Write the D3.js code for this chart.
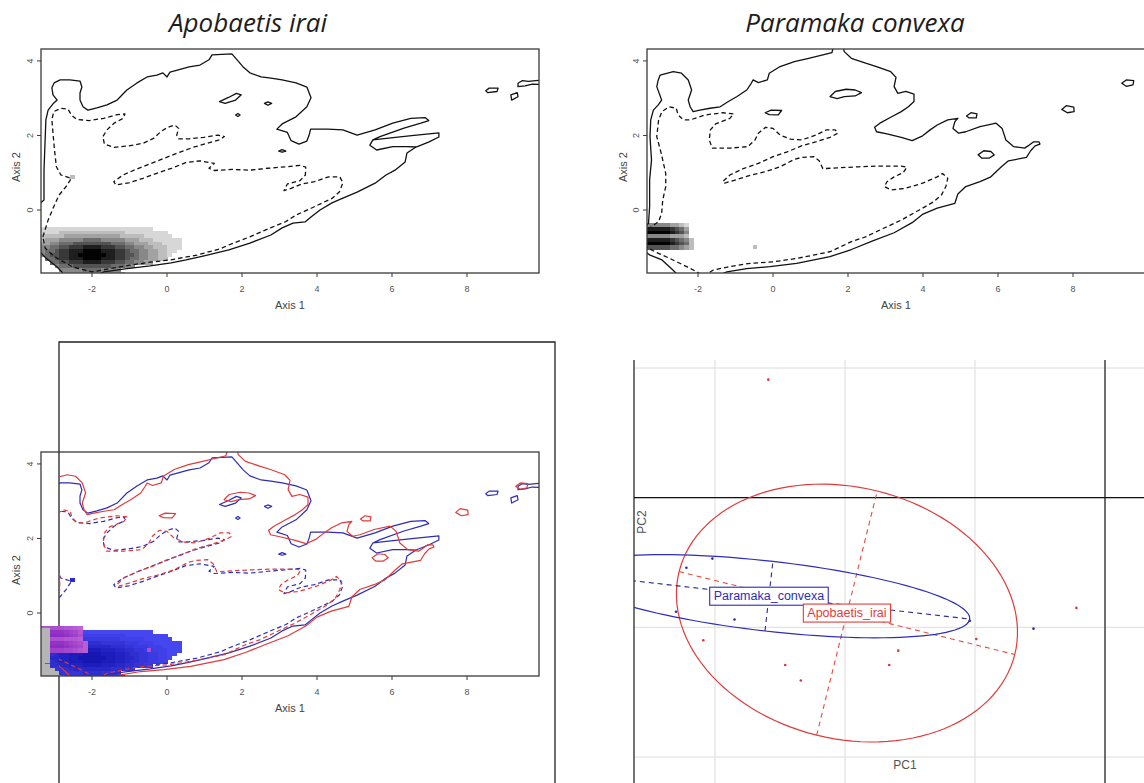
<!DOCTYPE html>
<html>
<head>
<meta charset="utf-8">
<script src="https://cdn.jsdelivr.net/npm/d3@7"></script>
<style>
  html, body { margin: 0; padding: 0; background: #fff; }
  svg { display: block; }
</style>
</head>
<body>
<svg id="fig" width="1144" height="783"></svg>
<script>
// ---------- niche space (Axis 1 / Axis 2) ----------
const axis1Ticks = [-2, 0, 2, 4, 6, 8];
const axis2Ticks = [0, 2, 4];
const axis1Range = [-3.36, 9.92];
const axis2Range = [-1.69, 4.32];
const speciesTitles = ["Apobaetis irai", "Paramaka convexa"];

// occupancy raster: rows from the top edge down, one digit (0-9) per cell
const rasterTop = -0.35, rasterLeft = -3.375, cellW = 0.125, cellH = 0.1;
const apobDensityRows = [
  "",
  "11111111 11111111 11111111",
  "1111 2222222 2222222 111111111",
  "22222 333333 333333 22222 111111",
  "2 333 44444 5555 44444 333 222 111111",
  "33 44 555 66666666 555 44 333 222 1111",
  "44 55 66 777 8888 777 66 55 44 33 222 111",
  "4 55 6 77 888 9999 888 77 6 55 44 33 22 11",
  "4 5 66 77 88 999999 88 77 66 5 44 33 22 1",
  "0 5 5 6 77 888 9999 888 77 6 55 44 33 22",
  "00 55 66 777 8888 777 66 55 44 33",
  "000 4 555 66666666 555 44",
  "0000 44444 5555 4444",
  "00000 3333333333333"
];
const paraDensityRows = [
  "444443321",
  "888887653",
  "999998764",
  "444443332",
  "8888876542",
  "9999987652",
  "6666655432"
];
const apobSpeckles = [[-2.52, 0.88, 2]];
const paraSpeckles = [[-0.48, -1.0, 2]];
// grey background cells of the overlap map [x0, x1, y0, y1]
const overlapGreyUnder = [[-3.45, -2.2, -1.75, -1.3]];
const overlapGreyOver = [[-3.45, -3.12, -1.35, -0.40]];

// Apobaetis irai: outer (solid) and inner (dashed) envelope
const apobSolid = [
  [-3.47,-1.07],[-3.36,-1.15],[-3.23,-1.29],[-2.93,-1.53],[-2.75,-1.72],[-2.45,-1.83],[-1.92,-1.77],
  [-1.68,-1.66],[-1.12,-1.58],[-0.45,-1.50],[0.11,-1.42],[0.51,-1.34],[0.99,-1.23],[1.65,-1.07],
  [2.21,-0.89],[2.77,-0.67],[3.07,-0.48],[3.36,-0.35],[3.68,-0.32],[3.84,-0.19],[4.08,0.00],
  [4.40,0.19],[4.69,0.32],[5.07,0.48],[5.55,0.72],[5.84,0.94],[6.08,1.07],[6.35,1.29],[6.40,1.53],
  [6.64,1.69],[6.99,1.83],[7.25,1.96],[7.25,2.07],
  [6.59,2.00],[6.03,1.94],[5.49,1.88],
  [5.68,1.97],[6.32,2.20],[6.77,2.33],[6.98,2.40],[6.88,2.48],
  [6.50,2.46],[6.02,2.33],[5.55,2.15],[5.07,2.01],[4.69,2.15],[4.29,2.17],[3.83,2.17],[3.79,2.01],
  [3.73,1.85],[3.52,1.77],[3.31,1.86],[3.21,2.08],[2.93,2.17],[3.07,2.31],[3.44,2.50],[3.73,2.77],
  [3.84,3.01],[3.73,3.30],[3.44,3.41],[3.07,3.49],[2.77,3.54],[2.51,3.57],[2.21,3.68],[2.03,3.84],
  [1.87,4.03],[1.73,4.19],[1.20,4.16],[1.12,4.03],[0.88,3.89],[0.59,3.84],[0.08,3.70],[0.00,3.57],
  [-0.11,3.68],[-0.27,3.62],[-0.53,3.57],[-0.80,3.41],[-1.07,3.22],[-1.33,2.95],[-1.60,2.82],
  [-1.87,2.74],[-2.11,2.68],[-2.24,2.77],[-2.32,2.95],[-2.32,3.14],[-2.27,3.30],[-2.32,3.46],
  [-2.59,3.49],[-2.85,3.49],[-3.01,3.41],[-3.07,3.28],[-3.04,3.09],[-2.93,2.95],[-3.04,2.85],
  [-3.17,2.68],[-3.23,2.42],[-3.25,1.88],[-3.28,1.07],[-3.28,0.27],[-3.44,0.13]
];
const apobDashed = [
  [-3.31,-0.72],[-3.17,-0.27],[-3.02,0.09],[-2.88,0.40],[-2.69,0.63],[-2.55,0.85],[-2.83,0.94],
  [-2.95,1.16],[-3.00,1.61],[-3.04,2.06],[-3.07,2.42],[-3.02,2.64],[-2.83,2.73],[-2.64,2.71],
  [-2.55,2.55],[-2.41,2.43],[-2.07,2.40],[-1.69,2.46],[-1.36,2.55],[-1.12,2.58],[-1.17,2.46],
  [-1.41,2.33],[-1.60,2.15],[-1.71,1.97],[-1.67,1.77],[-1.41,1.68],[-1.02,1.72],[-0.64,1.79],
  [-0.36,1.92],[-0.17,2.10],[0.02,2.22],[0.21,2.28],[0.31,2.19],[0.26,2.01],[0.31,1.91],[0.59,1.91],
  [0.98,1.95],[1.36,2.01],[1.53,1.97],[1.40,1.88],[1.07,1.79],[0.69,1.68],[0.31,1.54],[-0.07,1.39],
  [-0.45,1.24],[-0.83,1.09],[-1.17,0.94],[-1.42,0.76],[-1.36,0.67],[-1.02,0.73],[-0.64,0.85],
  [-0.26,0.99],[0.12,1.12],[0.50,1.27],[0.88,1.32],[1.26,1.25],[1.12,1.12],[1.26,1.06],[1.74,1.09],
  [2.21,1.07],[2.69,1.12],[3.17,1.16],[3.55,1.20],[3.70,1.15],[3.69,0.94],[3.55,0.79],[3.21,0.70],
  [3.12,0.52],[3.31,0.58],[3.59,0.70],[3.93,0.76],[4.31,0.89],[4.61,0.89],[4.69,0.73],[4.60,0.49],
  [4.40,0.31],[4.12,0.18],[3.83,0.04],[3.45,-0.13],[3.17,-0.31],[2.78,-0.47],[2.21,-0.72],
  [1.64,-0.94],[1.45,-1.03],[0.80,-1.21],[0.08,-1.34],[-0.45,-1.40],[-0.99,-1.48],[-1.44,-1.56],
  [-2.00,-1.66],[-2.51,-1.53],[-2.99,-1.26],[-3.25,-1.02]
];
const apobIslands = [
  [[1.40,2.91],[1.64,3.02],[1.85,3.13],[1.98,3.09],[1.83,2.95],[1.55,2.86]],
  [[2.60,2.86],[2.69,2.90],[2.79,2.86],[2.69,2.81]],
  [[1.83,2.55],[1.89,2.59],[1.95,2.55],[1.89,2.51]],
  [[2.98,1.58],[3.07,1.62],[3.17,1.58],[3.07,1.55]],
  [[8.50,3.20],[8.59,3.27],[8.83,3.27],[8.80,3.18],[8.55,3.15]],
  [[9.17,3.09],[9.34,3.15],[9.36,3.04],[9.19,2.95]]
];
const apobOpenPieces = [
  [[10.1,3.50],[9.83,3.47],[9.64,3.45],[9.47,3.47],[9.36,3.40],[9.36,3.31],[9.55,3.33],[9.74,3.38],[10.1,3.36]],
  [[5.49,1.88],[5.41,1.74],[5.59,1.61],[6.02,1.70],[6.40,1.70],[6.64,1.69]]
];

// Paramaka convexa: outer (solid) and inner (dashed) envelope
const paraSolid = [
  [-3.50,-1.05],[-3.28,-1.21],[-2.96,-1.34],[-2.67,-1.61],[-2.48,-1.80],[-1.60,-1.82],[-1.23,-1.66],
  [-0.70,-1.57],[-0.08,-1.52],[0.63,-1.43],[1.52,-1.25],[2.09,-1.06],[2.66,-0.83],[3.23,-0.61],
  [3.71,-0.34],[4.00,-0.11],[4.38,0.05],[4.85,0.18],[4.93,0.43],[5.14,0.63],[5.52,0.76],[5.81,0.89],
  [6.09,1.16],[6.28,1.32],[6.76,1.41],[6.87,1.59],[6.99,1.72],[7.12,1.77],[7.09,1.83],[6.95,1.83],
  [6.80,1.72],[6.71,1.66],[6.42,1.70],[6.21,1.88],[6.11,2.19],[5.95,2.33],[5.52,2.24],[5.14,2.10],
  [4.95,2.06],[4.80,2.19],[4.85,2.37],[4.93,2.46],[4.66,2.42],[4.38,2.28],[4.19,2.15],[3.99,1.99],
  [3.71,1.86],[3.42,1.95],[3.04,2.04],[2.76,2.10],[2.71,2.22],[2.85,2.33],[3.14,2.49],[3.42,2.64],
  [3.61,2.77],[3.76,2.91],[3.76,3.11],[3.54,3.18],[3.33,3.13],[3.23,3.31],[3.28,3.56],[3.14,3.71],
  [2.76,3.85],[2.47,3.94],[2.09,4.07],[1.90,4.25],[1.85,4.45],[1.63,4.45],[1.57,4.22],[1.33,4.16],
  [0.95,4.07],[0.57,3.98],[0.19,3.85],[-0.10,3.67],[-0.15,3.49],[-0.39,3.42],[-0.53,3.49],
  [-0.58,3.40],[-0.70,3.22],[-0.97,3.04],[-1.19,2.91],[-1.41,2.77],[-1.68,2.73],[-1.95,2.68],
  [-2.13,2.64],[-2.21,2.77],[-2.26,2.95],[-2.17,3.22],[-2.26,3.49],[-2.44,3.67],[-2.66,3.71],
  [-3.01,3.62],[-3.06,3.49],[-3.10,3.31],[-2.97,2.95],[-3.06,2.82],[-3.19,2.68],[-3.26,2.42],
  [-3.28,1.97],[-3.24,1.34],[-3.29,0.81],[-3.29,0.09],[-3.32,-0.36],[-3.53,-0.54]
];
const paraDashed = [
  [-3.45,-0.95],[-3.15,-1.12],[-2.75,-1.30],[-2.30,-1.52],[-2.03,-1.66],[-1.85,-1.78],[-1.59,-1.61],
  [-1.15,-1.52],[-0.61,-1.43],[0.01,-1.39],[0.63,-1.30],[1.52,-1.12],[2.09,-0.85],[2.47,-0.72],
  [2.95,-0.49],[3.42,-0.27],[3.90,0.00],[4.28,0.22],[4.49,0.40],[4.61,0.63],[4.66,0.85],[4.52,0.98],
  [4.38,0.89],[3.99,0.72],[3.52,0.58],[3.14,0.54],[2.97,0.63],[3.04,0.76],[3.23,0.89],[3.47,1.00],
  [3.57,1.15],[3.42,1.18],[2.85,1.18],[2.28,1.16],[1.71,1.13],[1.33,1.11],[1.23,1.32],[1.09,1.43],
  [0.76,1.41],[0.57,1.36],[0.19,1.16],[-0.20,1.03],[-0.58,0.94],[-0.96,0.82],[-1.29,0.72],
  [-1.34,0.76],[-1.15,0.94],[-0.77,1.12],[-0.39,1.25],[0.00,1.43],[0.38,1.56],[0.76,1.72],
  [1.14,1.83],[1.52,1.95],[1.73,2.06],[1.66,2.15],[1.42,2.15],[1.14,2.01],[0.76,1.88],[0.47,1.90],
  [0.19,2.01],[0.00,2.19],[-0.20,2.22],[-0.39,2.06],[-0.48,1.88],[-0.67,1.70],[-1.15,1.66],
  [-1.62,1.66],[-1.70,1.88],[-1.67,2.15],[-1.53,2.31],[-1.15,2.46],[-1.05,2.58],[-1.34,2.61],
  [-1.81,2.55],[-2.20,2.42],[-2.39,2.42],[-2.53,2.55],[-2.58,2.73],[-2.77,2.77],[-2.96,2.64],
  [-3.05,2.42],[-3.10,1.97],[-2.98,1.52],[-2.86,0.98],[-2.86,0.63],[-2.94,0.27],[-2.97,-0.09],
  [-3.05,-0.31],[-3.24,-0.45],[-3.50,-0.60]
];
const paraIslands = [
  [[1.52,3.04],[1.66,3.18],[1.95,3.24],[2.19,3.22],[2.36,3.15],[2.19,3.06],[1.90,3.04],[1.71,2.99]],
  [[-0.21,2.61],[-0.05,2.68],[0.23,2.67],[0.14,2.55],[-0.10,2.56]],
  [[5.16,2.52],[5.28,2.61],[5.44,2.58],[5.42,2.47],[5.23,2.47]],
  [[5.47,1.48],[5.62,1.59],[5.81,1.57],[5.90,1.48],[5.76,1.39],[5.57,1.39]],
  [[7.70,2.70],[7.82,2.80],[8.02,2.76],[8.03,2.64],[7.85,2.61]],
  [[9.30,3.40],[9.42,3.49],[9.62,3.47],[9.60,3.36],[9.42,3.32]]
];
const paraOpenPieces = [];

// ---------- PCA ----------
const pcGrid = [-1, 0, 1, 2];
const pcScoresApob = [[-0.59,1.91],[-1.09,-0.10],[-0.46,-0.29],[-0.34,-0.41],[0.34,-0.29],[0.41,-0.18],[1.01,-0.09],[1.78,0.15]];
const pcScoresPara = [[-1.22,0.46],[-1.02,0.53],[-1.30,0.12],[-0.85,0.06],[1.45,-0.01],[0.96,0.05]];
// centre x, centre y, semi-major, semi-minor, rotation (deg)
const ellipseApob = [0.015, 0.11, 1.33, 0.97, -13.9];
const ellipsePara = [-0.585, 0.24, 1.554, 0.27, -6.5];
const groupNames = ["Apobaetis_irai", "Paramaka_convexa"];

// ---------- drawing ----------
const svg = d3.select("#fig");
const defs = svg.append("defs");
const FONT = "'Liberation Sans', Arial, sans-serif";
const RED = "#e03b3b", BLUE = "#2d2db8";

function clipRect(id, x, y, w, h) {
  defs.append("clipPath").attr("id", id).append("rect")
    .attr("x", x).attr("y", y).attr("width", w).attr("height", h);
  return "url(#" + id + ")";
}

function nicheScales(left, top) {
  return {
    left, top, w: 498, h: 224,
    x: d3.scaleLinear().domain(axis1Range).range([left, left + 498]),
    y: d3.scaleLinear().domain(axis2Range).range([top + 224, top])
  };
}

function drawRaster(g, sc, rows, colour) {
  rows.forEach((row, r) => {
    const cells = row.replace(/\s+/g, "");
    for (let c = 0; c < cells.length; c++) {
      const v = +cells[c];
      if (!v) continue;
      const x0 = rasterLeft + c * cellW, y1 = rasterTop - r * cellH;
      g.append("rect")
        .attr("x", sc.x(x0)).attr("y", sc.y(y1))
        .attr("width", sc.x(x0 + cellW) - sc.x(x0) + 0.5)
        .attr("height", sc.y(y1 - cellH) - sc.y(y1) + 0.5)
        .attr("fill", colour(v))
        .attr("shape-rendering", "crispEdges");
    }
  });
}

function drawSpeckles(g, sc, list, colour) {
  list.forEach(([sx, sy, v]) => {
    g.append("rect")
      .attr("x", sc.x(sx - cellW / 2)).attr("y", sc.y(sy + cellH / 2))
      .attr("width", sc.x(cellW) - sc.x(0)).attr("height", sc.y(0) - sc.y(cellH))
      .attr("fill", colour(v)).attr("shape-rendering", "crispEdges");
  });
}

function drawEnvelope(g, sc, solid, dashed, islands, pieces, colour, width) {
  const open = d3.line().x(d => sc.x(d[0])).y(d => sc.y(d[1]));
  const closed = d3.line().x(d => sc.x(d[0])).y(d => sc.y(d[1])).curve(d3.curveLinearClosed);
  const st = sel => sel.attr("fill", "none").attr("stroke", colour)
    .attr("stroke-width", width).attr("stroke-linejoin", "round");
  st(g.append("path").attr("d", open(solid)));
  if (dashed.length) st(g.append("path").attr("d", closed(dashed)).attr("stroke-dasharray", "4.5,3"));
  islands.forEach(p => st(g.append("path").attr("d", closed(p))));
  pieces.forEach(p => st(g.append("path").attr("d", open(p))));
}

function drawParaDashedOpen(g, sc, colour, width) {
  // the inner envelope of Paramaka runs off the left edge, so it stays open
  const open = d3.line().x(d => sc.x(d[0])).y(d => sc.y(d[1]));
  g.append("path").attr("d", open(paraDashed)).attr("fill", "none")
    .attr("stroke", colour).attr("stroke-width", width)
    .attr("stroke-dasharray", "4.5,3").attr("stroke-linejoin", "round");
}

function drawNicheAxes(sc, tickLabelX, titleX) {
  const g = svg.append("g");
  g.append("rect").attr("x", sc.left).attr("y", sc.top)
    .attr("width", sc.w).attr("height", sc.h)
    .attr("fill", "none").attr("stroke", "#3a3a3a").attr("stroke-width", 1.3);
  const bottom = sc.top + sc.h;
  axis1Ticks.forEach(t => {
    g.append("line").attr("x1", sc.x(t)).attr("x2", sc.x(t))
      .attr("y1", bottom).attr("y2", bottom + 4).attr("stroke", "#3a3a3a");
    g.append("text").attr("x", sc.x(t)).attr("y", bottom + 16)
      .attr("text-anchor", "middle").attr("dominant-baseline", "central")
      .attr("font-family", FONT).attr("font-size", 9).attr("fill", "#555").text(t);
  });
  axis2Ticks.forEach(t => {
    g.append("line").attr("x1", sc.left - 4).attr("x2", sc.left)
      .attr("y1", sc.y(t)).attr("y2", sc.y(t)).attr("stroke", "#3a3a3a");
    g.append("text")
      .attr("transform", `translate(${tickLabelX},${sc.y(t)}) rotate(-90)`)
      .attr("text-anchor", "middle").attr("dominant-baseline", "central")
      .attr("font-family", FONT).attr("font-size", 9).attr("fill", "#555").text(t);
  });
  g.append("text").attr("x", sc.left + sc.w / 2).attr("y", bottom + 32)
    .attr("text-anchor", "middle").attr("dominant-baseline", "central")
    .attr("font-family", FONT).attr("font-size", 11).attr("fill", "#444").text("Axis 1");
  g.append("text")
    .attr("transform", `translate(${titleX},${sc.top + sc.h / 2 + 6}) rotate(-90)`)
    .attr("text-anchor", "middle").attr("dominant-baseline", "central")
    .attr("font-family", FONT).attr("font-size", 11).attr("fill", "#444").text("Axis 2");
}

const greyShade = v => { const k = Math.round(215 - (v - 1) * 26.5); return `rgb(${k},${k},${k})`; };
const blueShade = v => d3.interpolateRgb("rgb(70,70,240)", "rgb(22,22,178)")((v - 1) / 8);
const purpleShade = v => d3.interpolateRgb("rgb(190,100,214)", "rgb(140,44,196)")((v - 1) / 8);

// titles
svg.append("text").attr("x", 248).attr("y", 32).attr("text-anchor", "middle")
  .attr("font-family", "'Open Sans', 'Noto Sans', sans-serif").attr("font-style", "italic")
  .attr("font-size", 26).attr("fill", "#1d1d1d").text(speciesTitles[0]);
svg.append("text").attr("x", 855).attr("y", 32).attr("text-anchor", "middle")
  .attr("font-family", "'Open Sans', 'Noto Sans', sans-serif").attr("font-style", "italic")
  .attr("font-size", 26).attr("fill", "#1d1d1d").text(speciesTitles[1]);

// panel 1: Apobaetis irai
{
  const sc = nicheScales(41, 49);
  const g = svg.append("g").attr("clip-path", clipRect("c1", sc.left, sc.top, sc.w, sc.h));
  drawRaster(g, sc, apobDensityRows, greyShade);
  drawSpeckles(g, sc, apobSpeckles, greyShade);
  drawEnvelope(g, sc, apobSolid, apobDashed, apobIslands, apobOpenPieces, "#111", 1.3);
  drawNicheAxes(sc, 30, 16);
}

// panel 2: Paramaka convexa
{
  const sc = nicheScales(647, 49);
  const g = svg.append("g").attr("clip-path", clipRect("c2", sc.left, sc.top, sc.w, sc.h));
  drawRaster(g, sc, paraDensityRows, greyShade);
  drawSpeckles(g, sc, paraSpeckles, greyShade);
  drawEnvelope(g, sc, paraSolid, [], paraIslands, paraOpenPieces, "#111", 1.3);
  drawParaDashedOpen(g, sc, "#111", 1.3);
  drawNicheAxes(sc, 636, 623);
}

// panel 3: overlap of both species
{
  const sc = nicheScales(41, 452);
  // outer frame
  svg.append("path").attr("d", "M59,790V342H555V790")
    .attr("fill", "none").attr("stroke", "#222").attr("stroke-width", 1.3);
  const gr = svg.append("g").attr("clip-path", clipRect("c3", sc.left, sc.top, sc.w, sc.h));
  const rect = ([x0, x1, y0, y1]) => gr.append("rect")
    .attr("x", sc.x(x0)).attr("y", sc.y(y1))
    .attr("width", sc.x(x1) - sc.x(x0)).attr("height", sc.y(y0) - sc.y(y1))
    .attr("fill", "#b5b5b5");
  overlapGreyUnder.forEach(rect);
  drawRaster(gr, sc, apobDensityRows, blueShade);
  drawSpeckles(gr, sc, apobSpeckles, () => "#2b2bd0");
  drawRaster(gr, sc, paraDensityRows, purpleShade);
  drawSpeckles(gr, sc, paraSpeckles, () => "#b04cd0");
  overlapGreyOver.forEach(rect);
  const gc = svg.append("g").attr("clip-path", clipRect("c3b", 59, sc.top, sc.left + sc.w - 59, sc.h));
  drawEnvelope(gc, sc, apobSolid, apobDashed, apobIslands, apobOpenPieces, BLUE, 1.2);
  drawEnvelope(gc, sc, paraSolid, [], paraIslands, paraOpenPieces, RED, 1.2);
  drawParaDashedOpen(gc, sc, RED, 1.2);
  drawNicheAxes(sc, 30, 16);
}

// panel 4: PCA ellipses
{
  const px = d3.scaleLinear().domain([-1, 2]).range([715, 1105]);
  const py = d3.scaleLinear().domain([-1, 2]).range([757, 368]);
  const g = svg.append("g");
  pcGrid.forEach(v => {
    g.append("line").attr("x1", px(v)).attr("x2", px(v)).attr("y1", 360).attr("y2", 783)
      .attr("stroke", "#dcdcdc").attr("stroke-width", 1);
    g.append("line").attr("x1", 634).attr("x2", 1144).attr("y1", py(v)).attr("y2", py(v))
      .attr("stroke", "#dcdcdc").attr("stroke-width", 1);
  });
  g.append("line").attr("x1", 634).attr("x2", 634).attr("y1", 360).attr("y2", 783)
    .attr("stroke", "#3a3a3a").attr("stroke-width", 1.4);
  g.append("line").attr("x1", px(2)).attr("x2", px(2)).attr("y1", 360).attr("y2", 783)
    .attr("stroke", "#3a3a3a").attr("stroke-width", 1.4);
  g.append("line").attr("x1", 634).attr("x2", 1144).attr("y1", py(1)).attr("y2", py(1))
    .attr("stroke", "#111").attr("stroke-width", 1.3);

  g.append("text").attr("transform", `translate(642,522) rotate(-90)`)
    .attr("text-anchor", "middle").attr("dominant-baseline", "central")
    .attr("font-family", FONT).attr("font-size", 12).attr("fill", "#555").text("PC2");
  g.append("text").attr("x", 905).attr("y", 765)
    .attr("text-anchor", "middle").attr("dominant-baseline", "central")
    .attr("font-family", FONT).attr("font-size", 12).attr("fill", "#555").text("PC1");

  const ge = svg.append("g").attr("clip-path", clipRect("c4", 634, 360, 510, 423));
  const ellipse = ([cx, cy, a, b, deg], colour, dashColour) => {
    const th = deg * Math.PI / 180, c = Math.cos(th), s = Math.sin(th);
    const pts = d3.range(0, 361, 3).map(t => {
      const r = t * Math.PI / 180, u = a * Math.cos(r), w = b * Math.sin(r);
      return [px(cx + u * c - w * s), py(cy + u * s + w * c)];
    });
    ge.append("path").attr("d", d3.line()(pts)).attr("fill", "none")
      .attr("stroke", colour).attr("stroke-width", 1.2);
    const axisLine = (dx, dy) => ge.append("line")
      .attr("x1", px(cx - dx)).attr("y1", py(cy - dy))
      .attr("x2", px(cx + dx)).attr("y2", py(cy + dy))
      .attr("stroke", dashColour).attr("stroke-width", 1.1).attr("stroke-dasharray", "5,4");
    axisLine(a * c, a * s);
    axisLine(-b * s, b * c);
  };
  ellipse(ellipseApob, RED, "#e0503f");
  ellipse(ellipsePara, BLUE, "#2d2d90");

  pcScoresApob.forEach(([x, y]) => ge.append("circle").attr("cx", px(x)).attr("cy", py(y))
    .attr("r", 1.3).attr("fill", "#d23a3a"));
  pcScoresPara.forEach(([x, y]) => ge.append("circle").attr("cx", px(x)).attr("cy", py(y))
    .attr("r", 1.3).attr("fill", "#2d2da8"));

  const label = (e, text, colour) => {
    const lg = svg.append("g");
    const t = lg.append("text").attr("x", px(e[0])).attr("y", py(e[1]))
      .attr("text-anchor", "middle").attr("dominant-baseline", "central")
      .attr("font-family", FONT).attr("font-size", 12.5).attr("fill", colour).text(text);
    const bb = t.node().getBBox();
    lg.insert("rect", "text").attr("x", bb.x - 4).attr("y", py(e[1]) - 9)
      .attr("width", bb.width + 8).attr("height", 18)
      .attr("fill", "#fff").attr("stroke", colour).attr("stroke-width", 1.1);
  };
  label(ellipsePara, groupNames[1], BLUE);
  label(ellipseApob, groupNames[0], RED);
}
</script>
</body>
</html>
